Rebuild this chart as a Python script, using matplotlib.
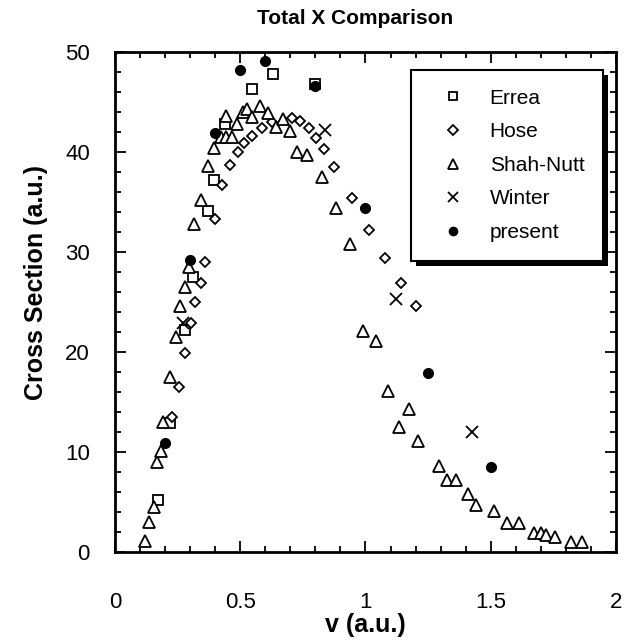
import numpy as np
import matplotlib
matplotlib.use("Agg")
import matplotlib.pyplot as plt
from matplotlib.patches import Rectangle
from matplotlib.ticker import MultipleLocator

plt.rcParams['font.family'] = ['Liberation Sans', 'DejaVu Sans']

# Errea (open squares)
errea_x = [0.17, 0.22, 0.28, 0.31, 0.37, 0.395, 0.44, 0.545, 0.63, 0.8]
errea_y = [5.2, 12.9, 22.2, 27.5, 34.1, 37.2, 42.8, 46.3, 47.8, 46.8]

# Hose (open diamonds)
hose_x = [0.228, 0.254, 0.28, 0.303, 0.32, 0.343, 0.36, 0.398, 0.427, 0.46,
          0.49, 0.515, 0.545, 0.585, 0.627, 0.705, 0.74, 0.773, 0.803, 0.833,
          0.876, 0.945, 1.013, 1.076, 1.14, 1.203]
hose_y = [13.5, 16.5, 19.9, 22.9, 25.0, 26.9, 29.0, 33.3, 36.7, 38.7,
          40.0, 40.9, 41.6, 42.4, 43.0, 43.4, 43.1, 42.4, 41.4, 40.3,
          38.5, 35.4, 32.2, 29.4, 26.9, 24.6]

# Shah-Nutt (open triangles)
shah_x = [0.118, 0.135, 0.154, 0.168, 0.182, 0.19, 0.218, 0.242, 0.26, 0.28,
          0.297, 0.315, 0.343, 0.373, 0.397, 0.422, 0.445, 0.467, 0.445, 0.488,
          0.51, 0.528, 0.545, 0.578, 0.61, 0.643, 0.67, 0.698, 0.725, 0.765,
          0.825, 0.882, 0.937, 0.99, 1.04, 1.09, 1.132, 1.172, 1.21, 1.292,
          1.325, 1.363, 1.41, 1.44, 1.513, 1.563, 1.612, 1.673, 1.70, 1.72,
          1.756, 1.82, 1.863]
shah_y = [1.1, 3.0, 4.5, 9.0, 10.1, 13.0, 17.5, 21.5, 24.6, 26.5,
          28.5, 32.8, 35.2, 38.6, 40.4, 41.5, 41.5, 41.5, 43.6, 42.8,
          44.0, 44.3, 43.5, 44.6, 43.9, 42.5, 43.3, 42.1, 40.0, 39.7,
          37.5, 34.4, 30.8, 22.1, 21.1, 16.1, 12.5, 14.3, 11.1, 8.6,
          7.2, 7.2, 5.8, 4.7, 4.1, 2.9, 2.9, 1.9, 1.9, 1.7,
          1.5, 1.0, 1.0]

# Winter (crosses)
winter_x = [0.27, 0.84, 1.12, 1.425]
winter_y = [22.9, 42.2, 25.3, 12.0]

# present (filled circles)
present_x = [0.2, 0.3, 0.4, 0.5, 0.6, 0.8, 1.0, 1.25, 1.5]
present_y = [10.9, 29.2, 41.9, 48.2, 49.1, 46.6, 34.4, 17.9, 8.5]

fig = plt.figure(figsize=(6.26, 6.41), dpi=100)
ax = fig.add_axes([0.1837, 0.1388, 0.8003, 0.7801])

mew = 1.3
ax.plot(errea_x, errea_y, 's', ms=7.5, mfc='white', mec='black', mew=mew, label='Errea')
ax.plot(hose_x, hose_y, 'D', ms=5.5, mfc='white', mec='black', mew=mew, label='Hose')
ax.plot(shah_x, shah_y, '^', ms=8, mfc='white', mec='black', mew=mew, label='Shah-Nutt')
ax.plot(winter_x, winter_y, 'x', ms=8.5, color='black', mew=mew, label='Winter')
ax.plot(present_x, present_y, 'o', ms=7, color='black', label='present')

ax.set_xlim(0, 2)
ax.set_ylim(0, 50)
ax.xaxis.set_major_locator(MultipleLocator(0.5))
ax.xaxis.set_minor_locator(MultipleLocator(0.1))
ax.yaxis.set_major_locator(MultipleLocator(10))
ax.yaxis.set_minor_locator(MultipleLocator(2))
ax.set_xticks([0, 0.5, 1, 1.5, 2])
ax.set_xticklabels(['0', '0.5', '1', '1.5', '2'])

ax.tick_params(which='both', direction='in', top=True, right=True, width=1.3)
ax.tick_params(which='major', length=8)
ax.tick_params(which='minor', length=4.5)
ax.tick_params(axis='x', which='major', pad=29, labelsize=16)
ax.tick_params(axis='y', which='major', pad=18, labelsize=16)
for s in ax.spines.values():
    s.set_linewidth(2)

ax.set_xlabel('v (a.u.)', fontsize=18, fontweight='bold', labelpad=0)
ax.set_ylabel('Cross Section (a.u.)', fontsize=18, fontweight='bold', labelpad=12, y=0.54)
ax.set_title('Total X Comparison', fontsize=15, fontweight='bold', pad=20, x=0.48)

leg = ax.legend(loc='upper left', bbox_to_anchor=(0.59, 0.964), borderaxespad=0,
                fontsize=15, frameon=True, fancybox=False, edgecolor='black',
                facecolor='white', framealpha=1,
                borderpad=0.9, handlelength=2.3, handletextpad=0.6, labelspacing=0.7,
                markerscale=0.85)
leg.get_frame().set_linewidth(1.5)
leg.set_zorder(5)

# drop shadow behind the legend box
fig.canvas.draw()
bb = leg.get_window_extent().transformed(ax.transAxes.inverted())
dx = 5 / (ax.bbox.width)
dy = 5 / (ax.bbox.height)
ax.add_patch(Rectangle((bb.x0 + dx, bb.y0 - dy), bb.width, bb.height,
                       transform=ax.transAxes, facecolor='black', edgecolor='none',
                       zorder=4.9, clip_on=False))

fig.savefig('out.png', dpi=100)
